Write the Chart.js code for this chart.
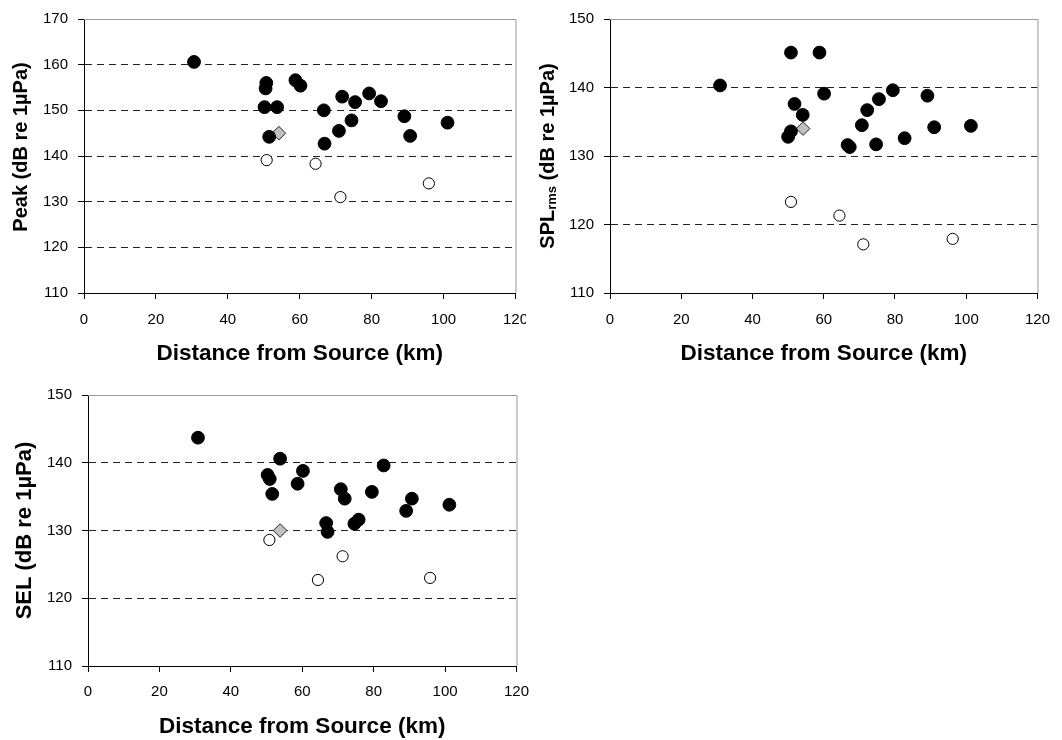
<!DOCTYPE html>
<html>
<head>
<meta charset="utf-8">
<script src="https://cdn.jsdelivr.net/npm/chart.js@4.4.0/dist/chart.umd.min.js"></script>
<style>
    html, body { margin: 0; padding: 0; background: #fff; }
    body { width: 1062px; height: 740px; position: relative; overflow: hidden; }
    .panel { position: absolute; background: #fff; }
    #p1 { left: 0; top: 0; width: 540px; height: 369px; z-index: 1; }
    #p2 { left: 526px; top: 0; width: 536px; height: 369px; z-index: 2; }
    #p3 { left: 0; top: 375px; width: 540px; height: 365px; z-index: 1; }
</style>
</head>
<body>
<div class="panel" id="p1"><canvas id="peak-chart"></canvas></div>
<div class="panel" id="p2"><canvas id="spl-chart"></canvas></div>
<div class="panel" id="p3"><canvas id="sel-chart"></canvas></div>

<script>
// --- Data (distance in km, level in dB re 1uPa) ---
const xTicks = [0, 20, 40, 60, 80, 100, 120];
const peakTicks = [110, 120, 130, 140, 150, 160, 170];
const splTicks = [110, 120, 130, 140, 150];
const selTicks = [110, 120, 130, 140, 150];

// Peak
const peakFilledDist = [30.6, 50.7, 50.5, 50.2, 53.7, 51.5, 58.8, 60.2, 66.7, 66.9, 71.8, 75.4, 74.4, 70.9, 79.3, 82.6, 89.1, 90.7, 101.1];
const peakFilledLevel = [160.6, 156.0, 154.8, 150.7, 150.7, 144.2, 156.6, 155.4, 150.0, 142.7, 153.0, 151.8, 147.8, 145.5, 153.7, 152.0, 148.7, 144.4, 147.3];
const peakOpenDist = [50.8, 64.4, 71.3, 95.9];
const peakOpenLevel = [139.1, 138.3, 131.0, 134.0];
const peakDiamondDist = [54.2];
const peakDiamondLevel = [145.0];

// SPL rms
const splFilledDist = [50.8, 58.8, 30.9, 60.1, 51.8, 54.1, 50.8, 50.0, 79.4, 75.5, 72.2, 70.7, 66.7, 67.3, 74.7, 82.7, 89.1, 91.0, 101.3];
const splFilledLevel = [145.1, 145.1, 140.3, 139.1, 137.6, 136.0, 133.6, 132.8, 139.6, 138.3, 136.7, 134.5, 131.6, 131.3, 131.7, 132.6, 138.8, 134.2, 134.4];
const splOpenDist = [50.8, 64.4, 71.1, 96.2];
const splOpenLevel = [123.3, 121.3, 117.1, 117.9];
const splDiamondDist = [54.2];
const splDiamondLevel = [134.0];

// SEL
const selFilledDist = [30.8, 53.8, 50.3, 50.9, 51.6, 60.2, 58.7, 70.8, 71.9, 79.5, 82.8, 66.7, 67.1, 75.8, 74.6, 90.7, 89.1, 101.2];
const selFilledLevel = [143.7, 140.6, 138.2, 137.6, 135.4, 138.8, 136.9, 136.1, 134.7, 135.7, 139.6, 131.1, 129.8, 131.6, 131.0, 134.7, 132.9, 133.8];
const selOpenDist = [50.8, 64.4, 71.3, 95.8];
const selOpenLevel = [128.6, 122.7, 126.2, 123.0];
const selDiamondDist = [53.8];
const selDiamondLevel = [130.0];

const FONT = 'Arial, "Liberation Sans", sans-serif';
Chart.defaults.font.family = FONT;
Chart.defaults.color = '#000';

const toPoints = (xs, ys) => xs.map((x, i) => ({ x: x, y: ys[i] }));

// gray top/right frame of the plot area
const framePlugin = {
    id: 'frame',
    beforeDatasetsDraw(chart) {
        const { ctx, chartArea: a } = chart;
        ctx.save();
        ctx.strokeStyle = '#999';
        ctx.lineWidth = 1;
        ctx.beginPath();
        ctx.moveTo(a.left, a.top + 0.5);
        ctx.lineTo(a.right + 0.5, a.top + 0.5);
        ctx.lineTo(a.right + 0.5, a.bottom);
        ctx.stroke();
        ctx.restore();
    }
};

// rotated y title, drawn in pieces so SPL can carry its "rms" subscript
const yTitlePlugin = {
    id: 'yTitle',
    afterDraw(chart, args, opts) {
        if (!opts || !opts.parts) return;
        const { ctx, chartArea: a } = chart;
        const big = 'bold ' + opts.size + 'px ' + FONT;
        const small = 'bold ' + Math.round(opts.size * 0.65) + 'px ' + FONT;
        const cy = opts.y != null ? opts.y : (a.top + a.bottom) / 2;
        ctx.save();
        let w = 0;
        opts.parts.forEach(p => { ctx.font = p.sub ? small : big; w += ctx.measureText(p.text).width; });
        ctx.translate(opts.x, cy);
        ctx.rotate(-Math.PI / 2);
        ctx.fillStyle = '#000';
        ctx.textBaseline = 'middle';
        let pos = -w / 2;
        opts.parts.forEach(p => {
            ctx.font = p.sub ? small : big;
            ctx.fillText(p.text, pos, p.sub ? 4 : 0);
            pos += ctx.measureText(p.text).width;
        });
        ctx.restore();
    }
};

function makeChart(id, cfg) {
    const yTicks = cfg.yTicks;
    const yMin = yTicks[0], yMax = yTicks[yTicks.length - 1];
    return new Chart(document.getElementById(id), {
        type: 'scatter',
        data: {
            datasets: [
                {
                    data: toPoints(cfg.filled[0], cfg.filled[1]),
                    pointRadius: 6.4, pointBackgroundColor: '#000', pointBorderColor: '#000', pointBorderWidth: 1
                },
                {
                    data: toPoints(cfg.open[0], cfg.open[1]),
                    pointRadius: 5.6, pointBackgroundColor: '#fff', pointBorderColor: '#000', pointBorderWidth: 1
                },
                {
                    data: toPoints(cfg.diamond[0], cfg.diamond[1]),
                    pointStyle: 'rectRot', pointRadius: 6.8,
                    pointBackgroundColor: '#c0c0c0', pointBorderColor: '#222', pointBorderWidth: 1
                }
            ]
        },
        options: {
            animation: false,
            responsive: true,
            maintainAspectRatio: false,
            layout: { padding: { top: cfg.top, right: cfg.right, left: 0, bottom: 0 } },
            plugins: {
                legend: { display: false },
                tooltip: { enabled: false },
                yTitle: cfg.yTitle
            },
            scales: {
                x: {
                    type: 'linear',
                    min: xTicks[0], max: xTicks[xTicks.length - 1],
                    afterBuildTicks: s => { s.ticks = xTicks.map(v => ({ value: v })); },
                    ticks: { font: { size: 15 }, padding: cfg.xTickPad, maxRotation: 0, color: '#000' },
                    grid: { drawOnChartArea: false, tickLength: 6, color: '#000' },
                    border: { color: '#000', width: 1 },
                    title: {
                        display: true, text: 'Distance from Source (km)', color: '#000',
                        font: { size: 22.5, weight: 'bold' }, padding: { top: 0, bottom: cfg.xTitlePad }
                    },
                    afterFit: s => { s.height = cfg.xAxisHeight; }
                },
                y: {
                    min: yMin, max: yMax,
                    afterBuildTicks: s => { s.ticks = yTicks.map(v => ({ value: v })); },
                    ticks: { font: { size: 15 }, padding: 10, color: '#000' },
                    grid: {
                        color: c => (c.tick && c.tick.value > yMin && c.tick.value < yMax) ? '#222' : 'rgba(0,0,0,0)',
                        tickColor: '#000', tickLength: 6, lineWidth: 1
                    },
                    border: { color: '#000', width: 1, dash: [7, 5] },
                    title: { display: false },
                    afterFit: s => { s.width = cfg.yAxisWidth; }
                }
            }
        },
        plugins: [framePlugin, yTitlePlugin]
    });
}

makeChart('peak-chart', {
    yTicks: peakTicks,
    filled: [peakFilledDist, peakFilledLevel],
    open: [peakOpenDist, peakOpenLevel],
    diamond: [peakDiamondDist, peakDiamondLevel],
    yTitle: { x: 21, y: 147, size: 20, parts: [{ text: 'Peak (dB re 1\u00B5Pa)' }] },
    top: 15, right: 21, yAxisWidth: 84, xAxisHeight: 76,
    xTickPad: 12, xTitlePad: 2
});

makeChart('spl-chart', {
    yTicks: splTicks,
    filled: [splFilledDist, splFilledLevel],
    open: [splOpenDist, splOpenLevel],
    diamond: [splDiamondDist, splDiamondLevel],
    yTitle: { x: 22, size: 20, parts: [{ text: 'SPL' }, { text: 'rms', sub: true }, { text: ' (dB re 1\u00B5Pa)' }] },
    top: 16, right: 17, yAxisWidth: 84, xAxisHeight: 76,
    xTickPad: 12, xTitlePad: 2
});

makeChart('sel-chart', {
    yTicks: selTicks,
    filled: [selFilledDist, selFilledLevel],
    open: [selOpenDist, selOpenLevel],
    diamond: [selDiamondDist, selDiamondLevel],
    yTitle: { x: 25, size: 22, parts: [{ text: 'SEL (dB re 1\u00B5Pa)' }] },
    top: 20, right: 20, yAxisWidth: 88, xAxisHeight: 74,
    xTickPad: 11, xTitlePad: 0
});
</script>
</body>
</html>
